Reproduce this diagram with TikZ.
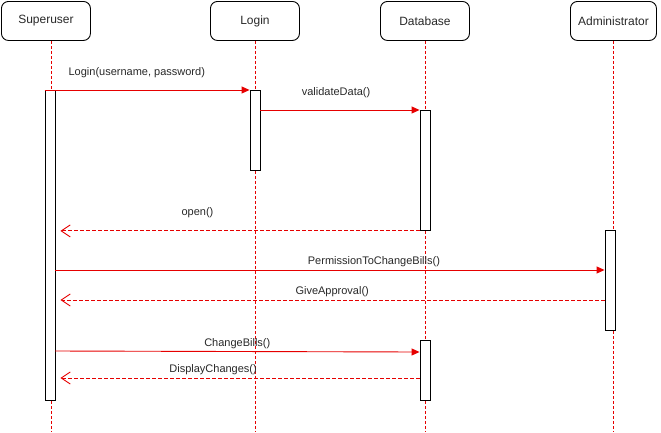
\documentclass[tikz,border=0pt]{standalone}
\usepackage{fontspec}
\setmainfont{Liberation Sans}
\usetikzlibrary{arrows.meta,calc}
\definecolor{msgred}{RGB}{230,0,0}
\definecolor{inkgray}{RGB}{40,40,40}
\begin{document}
\begin{tikzpicture}[x=1pt,y=-1pt,
  actor/.style={draw, rounded corners=7pt, line width=0.9pt, minimum width=89pt,
    minimum height=39pt, inner sep=0pt, anchor=north west, text=inkgray,
    font=\fontsize{12}{14}\selectfont},
  lifeline/.style={draw=msgred, line width=0.9pt, dash pattern=on 3pt off 2pt},
  act/.style={draw, fill=white, line width=0.9pt, minimum width=10pt, inner sep=0pt, anchor=north},
  call/.style={draw=msgred, line width=0.9pt, -{Triangle[length=8pt,width=7pt]}},
  reply/.style={draw=msgred, line width=0.9pt, dash pattern=on 4pt off 2pt,
    -{Straight Barb[length=9pt,width=12pt]}, shorten >=5pt},
  msg/.style={font=\fontsize{11}{13}\selectfont, inner sep=0pt, text=inkgray}
]
\useasboundingbox (0,0) rectangle (661,432);

% participants
\node[actor] (sup)  at (1,1)   {Superuser};
\node[actor] (log)  at (210,1) {Login};
\node[actor] (db)   at (380,1) {Database};
\node[actor, minimum width=86pt] (adm) at (570,1) {Administrator};

% lifeline ends
\coordinate (supend) at (51,432);
\coordinate (logend) at (255,432);
\coordinate (dbend)  at (425,432);
\coordinate (admend) at (613,432);

\draw[lifeline] (sup.south -| supend) -- (supend);
\draw[lifeline] (log.south -| logend) -- (logend);
\draw[lifeline] (db.south -| dbend) -- (dbend);
\draw[lifeline] (adm.south -| admend) -- (admend);

% activation bars
\node[act, minimum height=310pt] (sbar)  at (50,90)  {};
\node[act, minimum height=80pt]  (lbar)  at (255,90) {};
\node[act, minimum height=120pt] (dbar)  at (425,110) {};
\node[act, minimum height=100pt] (abar)  at (610,230) {};
\node[act, minimum height=60pt]  (dbarb) at (425,340) {};

% message levels
\coordinate (m2) at ($(lbar.north east)+(0,20)$);
\coordinate (m4) at ($(abar.north west)+(0,40)$);
\coordinate (m5) at ($(abar.north west)+(0,70)$);
\coordinate (m6s) at (55,351);
\coordinate (m6) at ($(dbarb.north west)+(0,12)$);
\coordinate (m7) at ($(dbarb.north west)+(0,38)$);

% messages
\draw[call] (sbar.north west) -- (lbar.north west)
  node[msg, pos=0.45, yshift=17pt] (t1) {Login(username, password)};
\draw[call] (m2) -- (dbar.north west)
  node[msg, pos=0.475, yshift=17pt] (t2) {validateData()};
\draw[reply] (dbar.south west) -- (sbar.east |- dbar.south west)
  node[msg, pos=0.61, yshift=18pt] (t3) {open()};
\draw[call] (sbar.east |- m4) -- (m4)
  node[msg, pos=0.58, yshift=8pt] (t4) {PermissionToChangeBills()};
\draw[reply] (m5) -- (sbar.east |- m5)
  node[msg, pos=0.496, yshift=8pt] (t5) {GiveApproval()};
\draw[call] (m6s) -- (m6)
  node[msg, pos=0.5, yshift=8pt] (t6) {ChangeBills()};
\draw[reply] (m7) -- (sbar.east |- m7)
  node[msg, pos=0.567, yshift=8pt] (t7) {DisplayChanges()};
\end{tikzpicture}
\end{document}
